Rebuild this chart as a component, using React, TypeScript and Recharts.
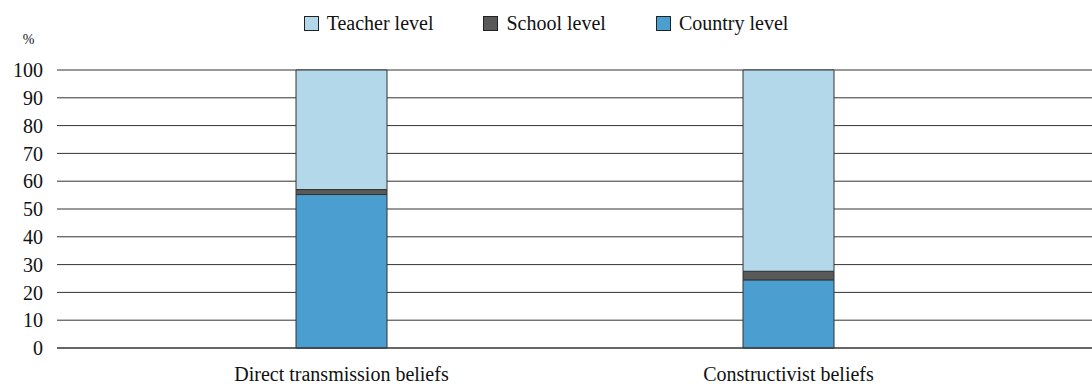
import { Bar, BarChart, CartesianGrid, Legend, XAxis, YAxis } from 'recharts'

const categories = ['Direct transmission beliefs', 'Constructivist beliefs']
const countryLevel = [55.2, 24.5]
const schoolLevel = [1.8, 3.1]
const teacherLevel = [43.0, 72.4]
const yTicks = [0, 10, 20, 30, 40, 50, 60, 70, 80, 90, 100]

const legendItems = [
  { name: 'Teacher level', color: '#b3d8ea' },
  { name: 'School level', color: '#595959' },
  { name: 'Country level', color: '#4a9fd0' },
]

const data = categories.map((name, i) => ({
  name,
  country: countryLevel[i],
  school: schoolLevel[i],
  teacher: teacherLevel[i],
}))

const font = 'Liberation Serif, Times New Roman, Tinos, DejaVu Serif, serif'

function ChartLegend(): JSX.Element {
  return (
    <div style={{ display: 'flex', justifyContent: 'center', gap: 50, fontFamily: font, fontSize: 20, color: '#111' }}>
      {legendItems.map((item) => (
        <span key={item.name} style={{ display: 'flex', alignItems: 'center', gap: 8 }}>
          <span style={{ width: 13, height: 13, background: item.color, border: '1px solid #222', display: 'inline-block' }} />
          {item.name}
        </span>
      ))}
    </div>
  )
}

export default function App(): JSX.Element {
  return (
    <div style={{ position: 'absolute', left: 0, top: 0, background: '#fff' }}>
      <BarChart width={1092} height={388} data={data} margin={{ top: 40, right: 0, bottom: 10, left: 0 }} barSize={91}>
        <Legend verticalAlign="top" height={30} content={() => <ChartLegend />} wrapperStyle={{ top: 12 }} />
        <CartesianGrid vertical={false} stroke="#333" strokeWidth={1} />
        <XAxis
          dataKey="name"
          padding={{ left: 61, right: 80 }}
          tickLine={false}
          axisLine={{ stroke: '#333' }}
          tick={{ fontSize: 20, fill: '#111', fontFamily: font }}
          tickMargin={13}
        />
        <YAxis
          width={57}
          domain={[0, 100]}
          ticks={yTicks}
          interval={0}
          axisLine={false}
          tickLine={false}
          tickMargin={8}
          tick={{ fontSize: 20, fill: '#111', fontFamily: font }}
          label={{ value: '%', position: 'top', offset: 26, fontSize: 14, fill: '#111', fontFamily: font }}
        />
        <Bar dataKey="country" stackId="a" fill="#4a9fd0" stroke="#333" strokeWidth={1} isAnimationActive={false} />
        <Bar dataKey="school" stackId="a" fill="#595959" stroke="#333" strokeWidth={1} isAnimationActive={false} />
        <Bar dataKey="teacher" stackId="a" fill="#b3d8ea" stroke="#333" strokeWidth={1} isAnimationActive={false} />
      </BarChart>
    </div>
  )
}
